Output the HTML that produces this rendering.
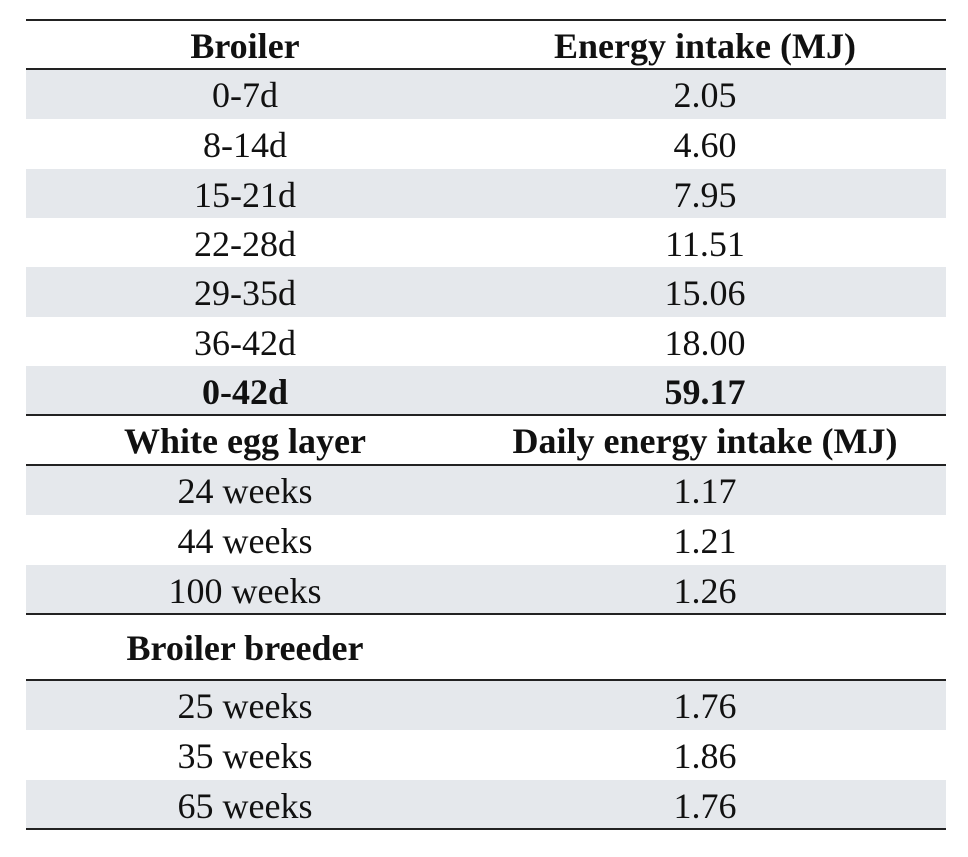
<!DOCTYPE html>
<html><head><style>
body{margin:0;width:968px;height:857px;background:#fff;position:relative;font-family:"Liberation Serif","Times New Roman",Times,serif;font-size:36px;color:#111;}
.r{position:absolute;left:26px;width:920px;}
.s{background:#e5e8ec;}
.t{position:absolute;top:1px;height:100%;display:flex;align-items:center;justify-content:center;}
.a{left:0;width:438px;}
.b{left:438px;width:482px;}
.l{position:absolute;left:26px;width:920px;height:2px;background:#222;}
.bold{font-weight:bold;}
</style></head><body>
<div class="r bold" style="top:20px;height:49px"><div class="t a">Broiler</div><div class="t b">Energy intake (MJ)</div></div>
<div class="r s" style="top:69px;height:50px"><div class="t a">0-7d</div><div class="t b">2.05</div></div>
<div class="r" style="top:119px;height:50px"><div class="t a">8-14d</div><div class="t b">4.60</div></div>
<div class="r s" style="top:169px;height:49px"><div class="t a">15-21d</div><div class="t b">7.95</div></div>
<div class="r" style="top:218px;height:49px"><div class="t a">22-28d</div><div class="t b">11.51</div></div>
<div class="r s" style="top:267px;height:50px"><div class="t a">29-35d</div><div class="t b">15.06</div></div>
<div class="r" style="top:317px;height:49px"><div class="t a">36-42d</div><div class="t b">18.00</div></div>
<div class="r s bold" style="top:366px;height:49px"><div class="t a">0-42d</div><div class="t b">59.17</div></div>
<div class="r bold" style="top:415px;height:50px"><div class="t a">White egg layer</div><div class="t b">Daily energy intake (MJ)</div></div>
<div class="r s" style="top:465px;height:50px"><div class="t a">24 weeks</div><div class="t b">1.17</div></div>
<div class="r" style="top:515px;height:50px"><div class="t a">44 weeks</div><div class="t b">1.21</div></div>
<div class="r s" style="top:565px;height:49px"><div class="t a">100 weeks</div><div class="t b">1.26</div></div>
<div class="r bold" style="top:614px;height:66px"><div class="t a">Broiler breeder</div></div>
<div class="r s" style="top:680px;height:50px"><div class="t a">25 weeks</div><div class="t b">1.76</div></div>
<div class="r" style="top:730px;height:50px"><div class="t a">35 weeks</div><div class="t b">1.86</div></div>
<div class="r s" style="top:780px;height:49px"><div class="t a">65 weeks</div><div class="t b">1.76</div></div>
<div class="l" style="top:19px"></div>
<div class="l" style="top:68px"></div>
<div class="l" style="top:414px"></div>
<div class="l" style="top:464px"></div>
<div class="l" style="top:613px"></div>
<div class="l" style="top:679px"></div>
<div class="l" style="top:828px"></div>
</body></html>
